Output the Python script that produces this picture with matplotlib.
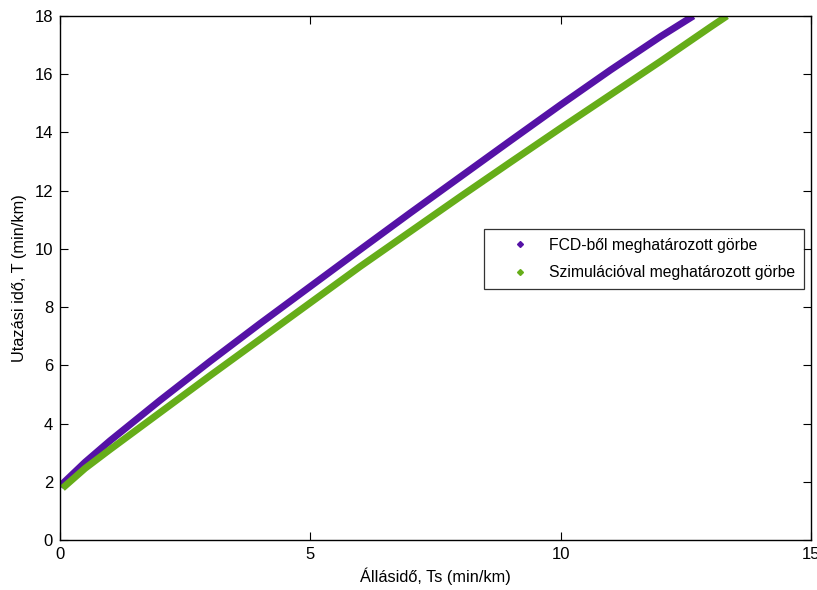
import matplotlib
matplotlib.use("Agg")
import matplotlib.pyplot as plt
from matplotlib.lines import Line2D

plt.rcParams['font.family'] = ['Liberation Sans', 'DejaVu Sans']

# FCD-ből meghatározott görbe
fcd_x = [0.0, 0.5, 1, 2, 3, 4, 5, 6, 7, 8, 9, 10, 11, 12, 12.65]
fcd_y = [1.85, 2.67, 3.41, 4.80, 6.14, 7.44, 8.71, 9.98, 11.24, 12.48, 13.72, 14.95, 16.15, 17.30, 18.0]

# Szimulációval meghatározott görbe
sim_x = [0.05, 0.5, 1, 2, 3, 4, 5, 6, 7, 8, 9, 10, 11, 12, 13, 13.32]
sim_y = [1.78, 2.46, 3.11, 4.38, 5.65, 6.90, 8.15, 9.40, 10.60, 11.80, 12.98, 14.15, 15.30, 16.45, 17.63, 18.0]

labels = ['FCD-ből meghatározott görbe', 'Szimulációval meghatározott görbe']
colors = ['#5512a6', '#66ad19']

x_ticks = [0, 5, 10, 15]
y_ticks = [0, 2, 4, 6, 8, 10, 12, 14, 16, 18]

fig = plt.figure(figsize=(8.17, 5.90), dpi=100)
ax = fig.add_axes([60/817, 1-540/590, 751/817, 524/590])

ax.plot(fcd_x, fcd_y, color=colors[0], lw=5, solid_capstyle='butt', label=labels[0])
ax.plot(sim_x, sim_y, color=colors[1], lw=5, solid_capstyle='butt', label=labels[1])

ax.set_xlim(0, 15)
ax.set_ylim(0, 18)
ax.set_xticks(x_ticks)
ax.set_yticks(y_ticks)
ax.tick_params(direction='in', top=True, right=True, length=6, width=0.8,
               labelsize=12, colors='black', pad=5)
for s in ax.spines.values():
    s.set_linewidth(1.0)

ax.set_xlabel('Állásidő, Ts (min/km)', fontsize=11.8)
ax.set_ylabel('Utazási idő, T (min/km)', fontsize=11.8)
ax.xaxis.labelpad = 4
ax.yaxis.labelpad = 5

handles = [Line2D([], [], ls='none', marker='D', markersize=3, color=c) for c in colors]
leg = ax.legend(handles, labels, loc='upper right', bbox_to_anchor=(0.9907, 0.5935),
                frameon=True, fancybox=False, edgecolor='black', fontsize=11.3,
                handlelength=3.5, borderpad=0.55, labelspacing=0.8, handletextpad=0.1,
                borderaxespad=0)
leg.get_frame().set_linewidth(0.9)

fig.savefig('out.png', dpi=100)
